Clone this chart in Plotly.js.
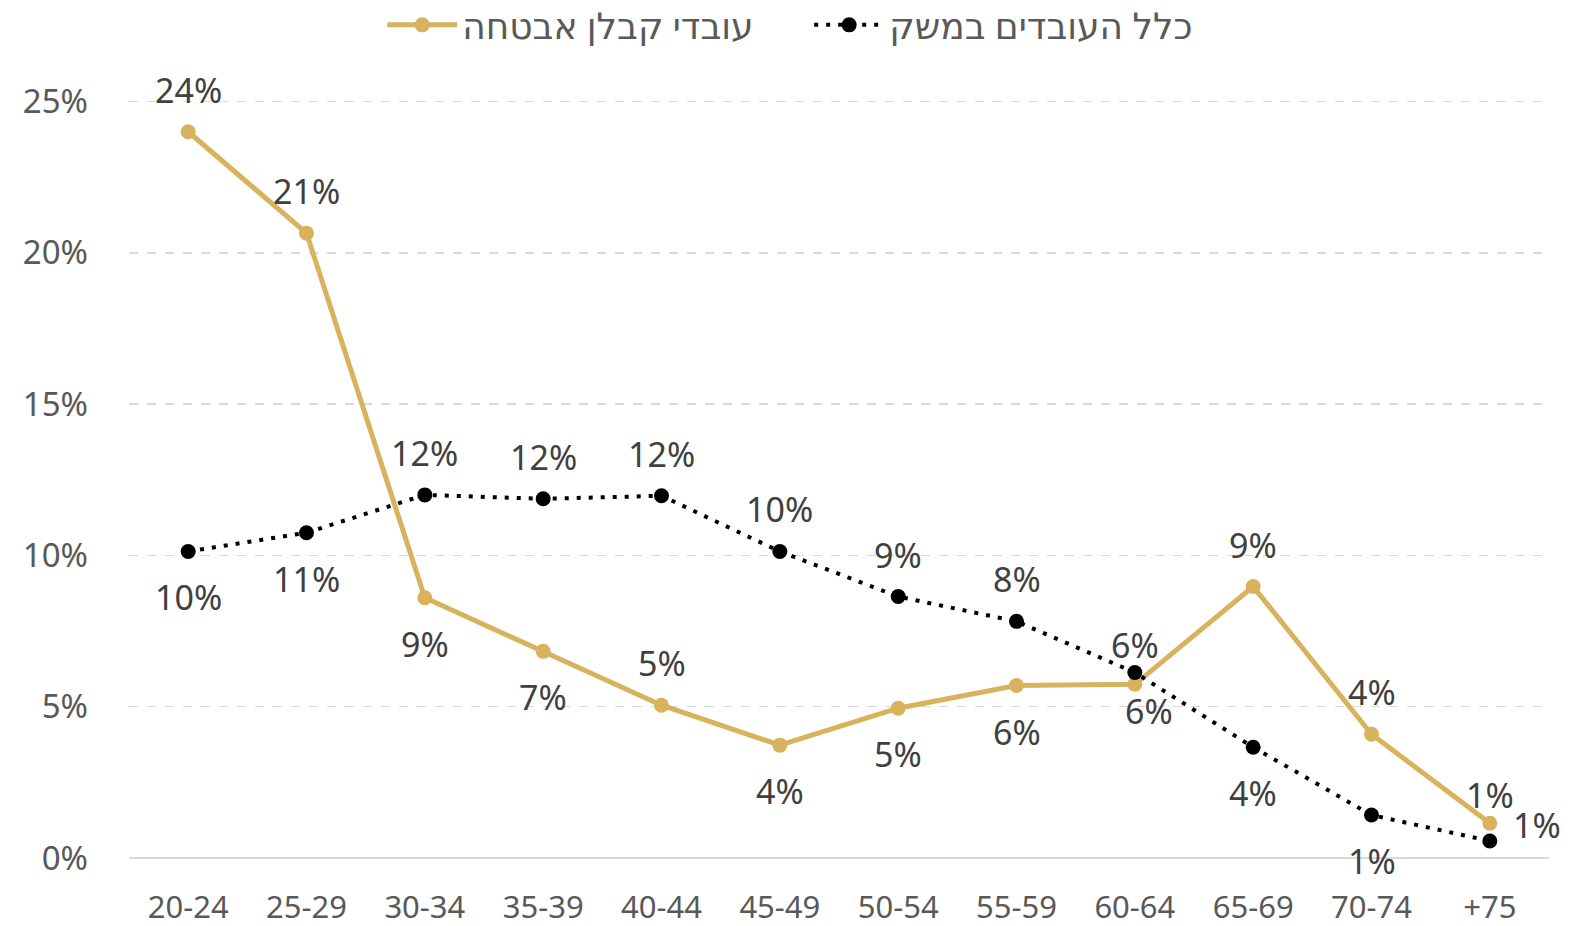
<!DOCTYPE html>
<html>
<head>
<meta charset="utf-8">
<script src="https://cdn.plot.ly/plotly-3.0.1.min.js"></script>
<style>
html,body{margin:0;padding:0;background:#fff;}
#chart{width:1575px;height:926px;}
</style>
</head>
<body>
<div id="chart"></div>
<script>
// ---- data ----
const categories = ["20-24","25-29","30-34","35-39","40-44","45-49","50-54","55-59","60-64","65-69","70-74","+75"];
const securityContractWorkers = [24.0, 20.65, 8.6, 6.83, 5.05, 3.73, 4.95, 5.7, 5.74, 8.97, 4.09, 1.15];
const allEmployees = [10.13, 10.75, 12.0, 11.87, 11.97, 10.13, 8.64, 7.82, 6.13, 3.66, 1.42, 0.56];
const seriesNames = ["עובדי קבלן אבטחה", "כלל העובדים במשק"];

// label placement keys (style, not data)
const goldLabelPos = ["t","t","b","b","t","b","b","b","br","t","t","ts"];
const blackLabelPos = ["b","b","t","t","t","t","t","t","ts","b","b","r"];

const shifts = {
  t:  {x: 0,  y: 42},
  ts: {x: 0,  y: 28},
  b:  {x: 0,  y: -46},
  br: {x: 14, y: -27},
  r:  {x: 47, y: 16}
};

const FONT = "Noto Sans, DejaVu Sans, sans-serif";
const GOLD = "#D8B25C";

function makeAnnotations(vals, pos){
  // x given as category index so labels like "+75" are not parsed as numbers
  return vals.map((v,i)=>({
    x: i, y: v, xref:'x', yref:'y',
    text: Math.round(v) + '%',
    showarrow:false,
    xshift: shifts[pos[i]].x, yshift: shifts[pos[i]].y,
    font:{family:FONT, size:34, color:'#404040'}
  }));
}

const traces = [
  {
    x: categories, y: securityContractWorkers, name: seriesNames[0],
    type:'scatter', mode:'lines+markers',
    line:{color:GOLD, width:5},
    marker:{color:GOLD, size:15},
    cliponaxis:false
  },
  {
    x: categories, y: allEmployees, name: seriesNames[1],
    type:'scatter', mode:'lines+markers',
    line:{color:'#000000', width:4, dash:'4px,8px'},
    marker:{color:'#000000', size:15},
    cliponaxis:false
  }
];

const layout = {
  width:1575, height:926,
  margin:{l:129, r:26, t:100, b:68, autoexpand:false},
  paper_bgcolor:'#ffffff', plot_bgcolor:'#ffffff',
  font:{family:FONT, color:'#595959', size:33},
  showlegend:true,
  legend:{orientation:'h', x:0.479, xanchor:'center', y:1.099, yanchor:'middle',
          itemwidth:70, entrywidth:342,
          font:{family:FONT, size:36, color:'#595959'}, traceorder:'normal'},
  xaxis:{
    type:'category', range:[-0.5, 11.5],
    showgrid:false, zeroline:false, showline:false,
    ticks:'', ticklabelstandoff:28,
    tickfont:{family:FONT, size:31, color:'#595959'},
    fixedrange:true
  },
  yaxis:{
    range:[0, 25.05], dtick:5, ticksuffix:'%',
    showgrid:true, gridcolor:'#D9D9D9', gridwidth:1.5, griddash:'dash',
    zeroline:true, zerolinecolor:'#D9D9D9', zerolinewidth:2,
    showline:false, ticks:'', ticklabelstandoff:40,
    tickfont:{family:FONT, size:33, color:'#595959'},
    fixedrange:true
  },
  annotations: makeAnnotations(securityContractWorkers, goldLabelPos)
                 .concat(makeAnnotations(allEmployees, blackLabelPos))
};

Plotly.newPlot('chart', traces, layout, {displayModeBar:false, staticPlot:true});
</script>
</body>
</html>
